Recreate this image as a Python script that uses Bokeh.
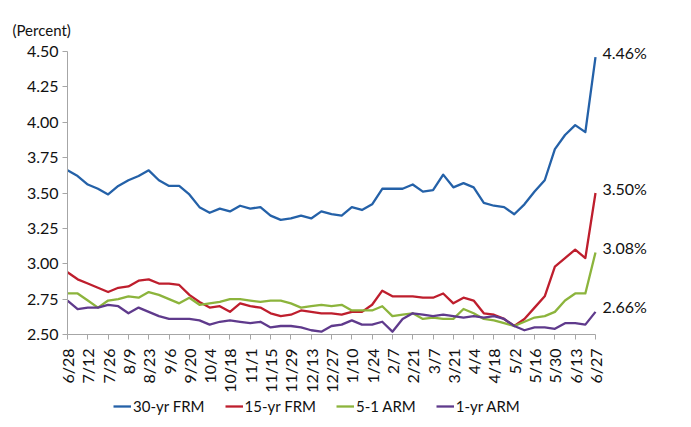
from bokeh.plotting import figure
from bokeh.models import (Range1d, FixedTicker, NumeralTickFormatter,
                          Legend, LegendItem, ColumnDataSource)
from bokeh.core.properties import value
from bokeh.embed import file_html
from bokeh.resources import INLINE
import math

dates = ["6/28", "7/5", "7/12", "7/19", "7/26", "8/2", "8/9", "8/16", "8/23", "8/30",
         "9/6", "9/13", "9/20", "9/27", "10/4", "10/11", "10/18", "10/25", "11/1", "11/8",
         "11/15", "11/22", "11/29", "12/6", "12/13", "12/20", "12/27", "1/3", "1/10", "1/17",
         "1/24", "1/31", "2/7", "2/14", "2/21", "2/28", "3/7", "3/14", "3/21", "3/28",
         "4/4", "4/11", "4/18", "4/25", "5/2", "5/9", "5/16", "5/23", "5/30", "6/6",
         "6/13", "6/20", "6/27"]

frm30 = [3.66, 3.62, 3.56, 3.53, 3.49, 3.55, 3.59, 3.62, 3.66, 3.59,
         3.55, 3.55, 3.49, 3.40, 3.36, 3.39, 3.37, 3.41, 3.39, 3.40,
         3.34, 3.31, 3.32, 3.34, 3.32, 3.37, 3.35, 3.34, 3.40, 3.38,
         3.42, 3.53, 3.53, 3.53, 3.56, 3.51, 3.52, 3.63, 3.54, 3.57,
         3.54, 3.43, 3.41, 3.40, 3.35, 3.42, 3.51, 3.59, 3.81, 3.91,
         3.98, 3.93, 4.46]
frm15 = [2.94, 2.89, 2.86, 2.83, 2.80, 2.83, 2.84, 2.88, 2.89, 2.86,
         2.86, 2.85, 2.78, 2.73, 2.69, 2.70, 2.66, 2.72, 2.70, 2.69,
         2.65, 2.63, 2.64, 2.67, 2.66, 2.65, 2.65, 2.64, 2.66, 2.66,
         2.71, 2.81, 2.77, 2.77, 2.77, 2.76, 2.76, 2.79, 2.72, 2.76,
         2.74, 2.65, 2.64, 2.61, 2.56, 2.61, 2.69, 2.77, 2.98, 3.04,
         3.10, 3.04, 3.50]
arm51 = [2.79, 2.79, 2.74, 2.69, 2.74, 2.75, 2.77, 2.76, 2.80, 2.78,
         2.75, 2.72, 2.76, 2.71, 2.72, 2.73, 2.75, 2.75, 2.74, 2.73,
         2.74, 2.74, 2.72, 2.69, 2.70, 2.71, 2.70, 2.71, 2.67, 2.67,
         2.67, 2.70, 2.63, 2.64, 2.65, 2.61, 2.62, 2.61, 2.61, 2.68,
         2.65, 2.61, 2.60, 2.58, 2.56, 2.59, 2.62, 2.63, 2.66, 2.74,
         2.79, 2.79, 3.08]
arm1 = [2.74, 2.68, 2.69, 2.69, 2.71, 2.70, 2.65, 2.69, 2.66, 2.63,
        2.61, 2.61, 2.61, 2.60, 2.57, 2.59, 2.60, 2.59, 2.58, 2.59,
        2.55, 2.56, 2.56, 2.55, 2.53, 2.52, 2.56, 2.57, 2.60, 2.57,
        2.57, 2.59, 2.52, 2.61, 2.65, 2.64, 2.63, 2.64, 2.63, 2.62,
        2.63, 2.62, 2.63, 2.61, 2.56, 2.53, 2.55, 2.55, 2.54, 2.58,
        2.58, 2.57, 2.66]

series_names = ["30-yr FRM", "15-yr FRM", "5-1 ARM", "1-yr ARM"]
series_values = [frm30, frm15, arm51, arm1]
series_colors = ["#2461A8", "#BE1E2D", "#8CB43C", "#5F3A8C"]
y_ticks = [2.50, 2.75, 3.00, 3.25, 3.50, 3.75, 4.00, 4.25, 4.50]
y_unit_label = "(Percent)"

FONT = "Lato"
xs = list(range(len(dates)))

# layout (pixels from the canvas top-left): data area inside a full-canvas frame
W, H = 683, 419
left_px, right_px = 67, 595      # x of first / last week
top_px, bottom_px = 51, 334      # y of top / bottom tick
x_per_px = (xs[-1] - xs[0]) / (right_px - left_px)
y_per_px = (y_ticks[-1] - y_ticks[0]) / (bottom_px - top_px)
x_range = Range1d(xs[0] - left_px * x_per_px, xs[-1] + (W - right_px) * x_per_px)
y_range = Range1d(y_ticks[0] - (H - bottom_px) * y_per_px, y_ticks[-1] + top_px * y_per_px)

p = figure(width=W, height=H, output_backend="svg", toolbar_location=None,
           x_range=x_range, y_range=y_range,
           min_border=0, min_border_left=0, min_border_right=0,
           min_border_top=0, min_border_bottom=0)
p.outline_line_color = None
p.grid.visible = False
p.background_fill_color = "white"
p.border_fill_color = "white"

items = []
for name, vals, col in zip(series_names, series_values, series_colors):
    r = p.line(xs, vals, line_color=col, line_width=2.3, line_join="round")
    items.append(LegendItem(label=name, renderers=[r]))

end_src = ColumnDataSource(dict(x=[xs[-1]] * len(series_values),
                                y=[v[-1] for v in series_values],
                                t=["%.2f%%" % v[-1] for v in series_values]))
p.text(x="x", y="y", text="t", source=end_src, x_offset=7, y_offset=-5,
       text_baseline="middle", text_align="left", text_font=value(FONT),
       text_font_size="16px", text_color="#111111")

p.text(x=[xs[0]], y=[y_ticks[-1]], text=[y_unit_label], x_offset=-55, y_offset=-22,
       text_baseline="middle", text_align="left", text_font=value(FONT),
       text_font_size="15px", text_color="#111111")

# axes
p.xaxis.fixed_location = y_ticks[0]
p.xaxis.bounds = (xs[0], xs[-1])
p.xaxis.ticker = FixedTicker(ticks=xs[::2])
p.xaxis.major_label_overrides = {i: dates[i] for i in xs[::2]}
p.xaxis.major_label_orientation = math.pi / 2
p.xaxis.minor_tick_line_color = None
p.xaxis.major_tick_in = 0
p.xaxis.major_tick_out = 5
p.xaxis.major_label_standoff = 9
p.xaxis.axis_line_color = "#A6A6A6"
p.xaxis.major_tick_line_color = "#A6A6A6"
p.xaxis.major_label_text_font = FONT
p.xaxis.major_label_text_font_size = "16px"
p.xaxis.major_label_text_color = "#111111"

p.yaxis.fixed_location = xs[0]
p.yaxis.bounds = (y_ticks[0], y_ticks[-1])
p.yaxis.ticker = FixedTicker(ticks=y_ticks)
p.yaxis.formatter = NumeralTickFormatter(format="0.00")
p.yaxis.minor_tick_line_color = None
p.yaxis.major_tick_in = 0
p.yaxis.major_tick_out = 5
p.yaxis.major_label_standoff = 4
p.yaxis.axis_line_color = "#A6A6A6"
p.yaxis.major_tick_line_color = "#A6A6A6"
p.yaxis.major_label_text_font = FONT
p.yaxis.major_label_text_font_size = "16px"
p.yaxis.major_label_text_color = "#111111"

legend = Legend(items=items, orientation="horizontal", location=(113, 4),
                label_text_font=FONT, label_text_font_size="15px",
                label_text_color="#111111", glyph_width=18, glyph_height=16,
                label_height=16, label_standoff=2,
                spacing=20, padding=0, margin=0, border_line_color=None,
                background_fill_alpha=0)
p.add_layout(legend)

open("out.html", "w").write(file_html(p, INLINE))
